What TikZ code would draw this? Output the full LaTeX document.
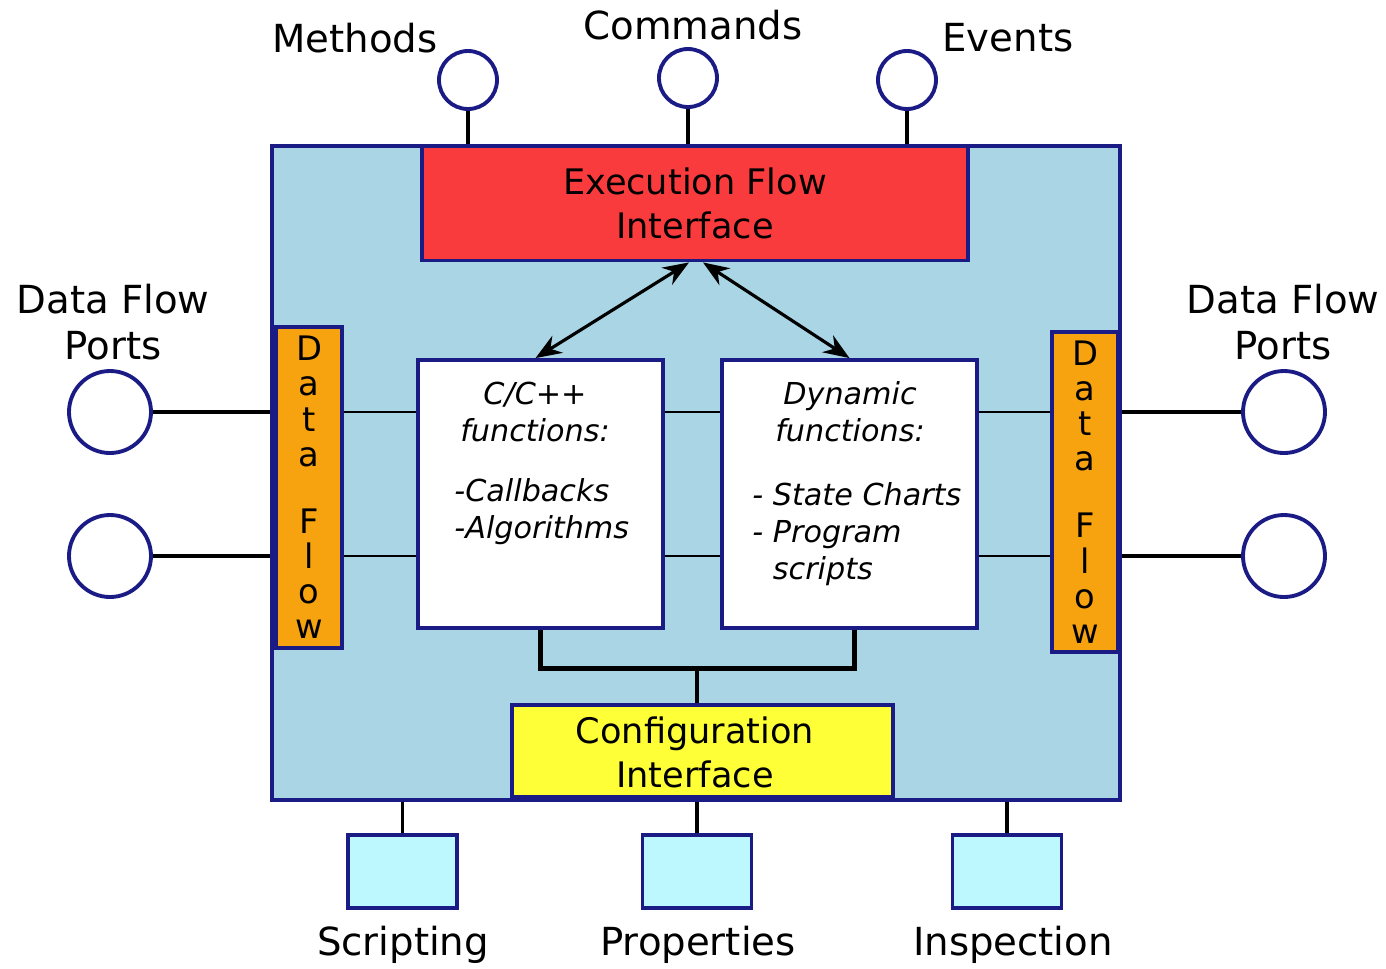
\documentclass[tikz,border=0pt]{standalone}
\usepackage{fontspec}
\setmainfont{DejaVu Sans}
\usepackage{xcolor}
\usepackage{tikz}
\usetikzlibrary{calc,arrows.meta}
\definecolor{navy}{HTML}{1B1B86}
\definecolor{compbg}{HTML}{A9D5E5}
\definecolor{execred}{HTML}{FA3B3D}
\definecolor{flowor}{HTML}{F7A20F}
\definecolor{cfgyel}{HTML}{FFFF38}
\definecolor{propcy}{HTML}{BDF8FF}
\tikzset{
  box/.style={draw=navy, line width=1.1pt, inner sep=0pt},
  port/.style={circle, draw=navy, fill=white, line width=1.1pt, inner sep=0pt},
  wire/.style={draw=black, line width=1.4pt},
  thinw/.style={draw=black, line width=0.6pt},
  arr/.style={draw=black, line width=0.9pt, {Stealth[length=2.6mm,width=2mm]}-{Stealth[length=2.6mm,width=2mm]}},
  lab/.style={font=\fontsize{11}{13}\selectfont, align=center},
  boxtxt/.style={font=\fontsize{10}{12.5}\selectfont, align=center},
  fntxt/.style={font=\fontsize{8.6}{10.5}\selectfont\itshape},
  bartxt/.style={font=\fontsize{9.6}{10}\selectfont, align=center},
}
\begin{document}
\begin{tikzpicture}[x=0.1mm, y=-0.1mm]
  \useasboundingbox (0,0) rectangle (1386,968);

  % component body
  \node[box, fill=compbg, minimum width=84.8mm, minimum height=65.4mm] (comp) at (696,473) {};
  \node[box, fill=execred, minimum width=54.6mm, minimum height=11.4mm] (exec) at (695,203.5) {};
  \node[boxtxt] at (exec.center) {Execution Flow\\Interface};
  \node[box, fill=cfgyel, minimum width=38.1mm, minimum height=9.2mm] (cfg) at (702.5,751) {};
  \node[boxtxt] at (695,752) {Configuration\\Interface};

  % data flow bars
  \node[box, fill=flowor, minimum width=6.6mm, minimum height=32.1mm] (lbar) at (309,487.5) {};
  \node[box, fill=flowor, minimum width=6.6mm, minimum height=32mm] (rbar) at (1085,492) {};
  \node[bartxt] at (lbar.center) {D\\a\\t\\a\\[3.2mm]F\\l\\o\\w};
  \node[bartxt] at (rbar.center) {D\\a\\t\\a\\[3.2mm]F\\l\\o\\w};

  % function boxes
  \node[box, fill=white, minimum width=24.5mm, minimum height=26.8mm] (cfun) at (540.5,494) {};
  \node[box, fill=white, minimum width=25.5mm, minimum height=26.8mm] (dfun) at (849.5,494) {};
  \node[fntxt, align=center] at (535,412) {C/C++\\functions:};
  \node[fntxt, align=left, anchor=west] at (442,512) {-Callbacks\\-Algorithms};
  \node[fntxt, align=center] at (850,412) {Dynamic\\functions:};
  \node[fntxt, align=left, anchor=north west] at (740,470) {- State Charts\\- Program\\\hphantom{- }scripts};

  % ports
  \node[port, minimum size=5.8mm] (pm) at (468,80) {};
  \node[port, minimum size=5.8mm] (pc) at (688,78) {};
  \node[port, minimum size=5.8mm] (pe) at (907,80) {};
  \node[lab] at (355,38) {Methods};
  \node[lab] at (693,25) {Commands};
  \node[lab] at (1008,38) {Events};

  \node[port, minimum size=8.2mm] (lp1) at (110,412) {};
  \node[port, minimum size=8.2mm] (lp2) at (110,556) {};
  \node[port, minimum size=8.2mm] (rp1) at (1284,412) {};
  \node[port, minimum size=8.2mm] (rp2) at (1284,556) {};
  \node[lab] at (113,322) {Data Flow\\Ports};
  \node[lab] at (1283,322) {Data Flow\\Ports};

  \node[box, fill=propcy, minimum width=10.9mm, minimum height=7.3mm] (bs) at (402.5,871.5) {};
  \node[box, fill=propcy, minimum width=10.9mm, minimum height=7.3mm] (bp) at (697,871.5) {};
  \node[box, fill=propcy, minimum width=10.9mm, minimum height=7.3mm] (bi) at (1007,871.5) {};
  \node[lab] at (403,945) {Scripting};
  \node[lab] at (698,945) {Properties};
  \node[lab] at (1013,945) {Inspection};

  % connectors
  \foreach \p in {pm,pc,pe}
    \draw[wire, line width=1.1pt] (\p.south) -- (\p.south |- comp.north);
  \foreach \p in {bs,bp,bi}
    \draw[wire, line width=1.1pt] (\p.north) -- (\p.north |- comp.south);
  \foreach \p in {lp1,lp2}
    \draw[wire] (\p.east) -- (\p -| comp.west);
  \foreach \p in {rp1,rp2}
    \draw[wire] (\p.west) -- (\p -| comp.east);
  \foreach \p in {lp1,lp2} {
    \draw[thinw] (lbar.east |- \p) -- (cfun.west |- \p);
    \draw[thinw] (cfun.east |- \p) -- (dfun.west |- \p);
    \draw[thinw] (dfun.east |- \p) -- (rbar.west |- \p);
  }

  \draw[arr] ([xshift=-0.6mm]exec.south) -- ([xshift=-0.5mm]cfun.north);
  \draw[arr] ([xshift=0.8mm]exec.south) -- (dfun.north);

  \coordinate (join) at ($(cfun.south)+(0,39)$);
  \draw[wire] (cfun.south) -- (join) -| ([xshift=0.5mm]dfun.south);
  \draw[wire] (cfg.north -| 697,0) -- (join -| 697,0);
\end{tikzpicture}
\end{document}
